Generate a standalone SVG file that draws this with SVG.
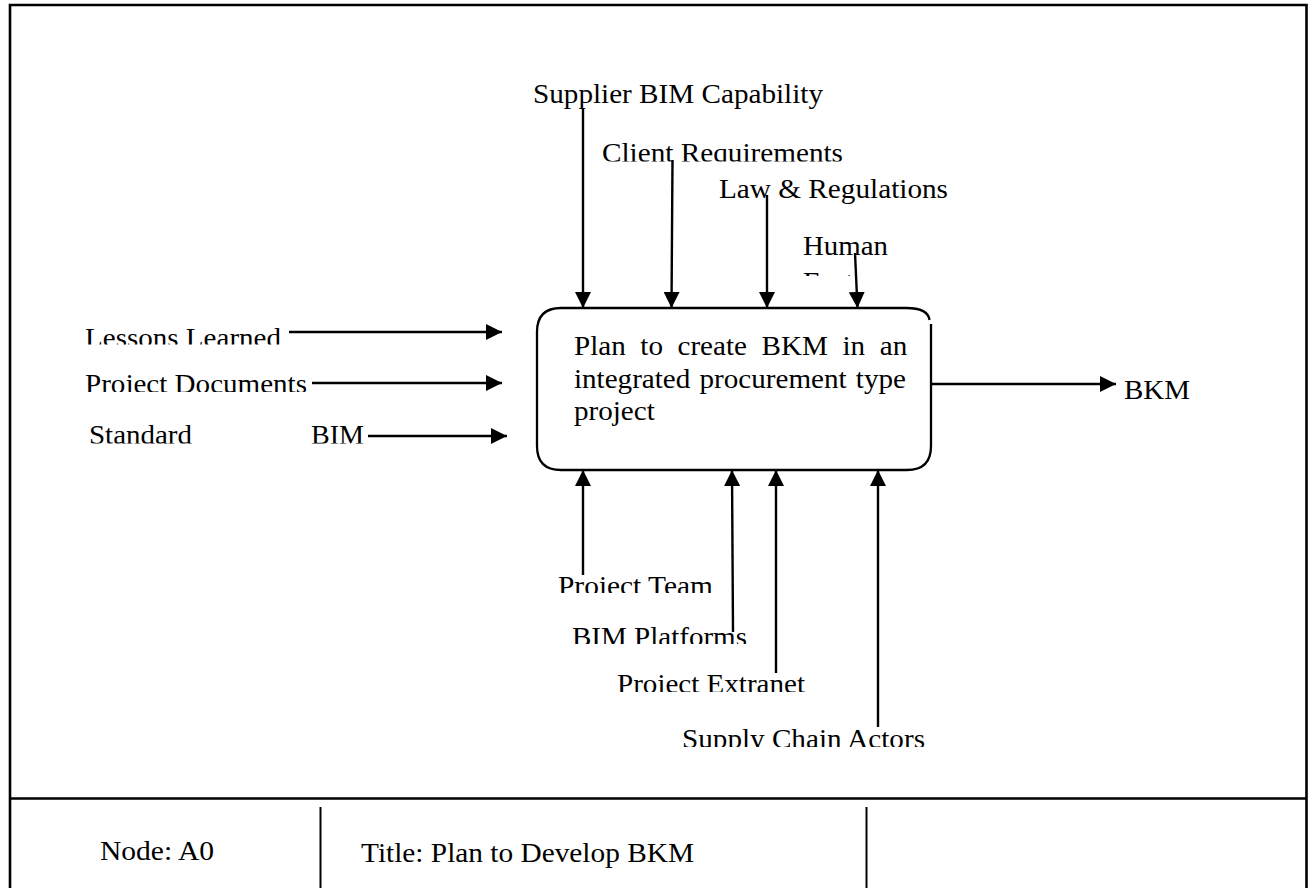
<svg xmlns="http://www.w3.org/2000/svg" width="1309" height="888" viewBox="0 0 1309 888">
<style>
  text { font-family: "Liberation Serif", "Times New Roman", serif; font-size: 28px; fill: #000; }
  .frame { stroke: #000; stroke-width: 2.6; fill: none; }
  .thin { stroke: #000; stroke-width: 2; fill: none; }
  .arrow { stroke: #000; stroke-width: 2.4; fill: none; marker-end: url(#ah); }
  .box { stroke: #000; stroke-width: 2.3; fill: none; }
</style>
<defs>
  <marker id="ah" viewBox="0 0 16 16" refX="16" refY="8" markerWidth="16" markerHeight="16" markerUnits="userSpaceOnUse" orient="auto">
    <path d="M0,0 L16,8 L0,16 z" fill="#000"/>
  </marker>
  <clipPath id="cClient"><rect x="590" y="120" width="270" height="41.5"/></clipPath>
  <clipPath id="cHuman"><rect x="795" y="225" width="110" height="51"/></clipPath>
  <clipPath id="cLessons"><rect x="70" y="315" width="220" height="29.5"/></clipPath>
  <clipPath id="cDocs"><rect x="70" y="360" width="245" height="32"/></clipPath>
  <clipPath id="cStd"><rect x="70" y="415" width="300" height="28.5"/></clipPath>
  <clipPath id="cTeam"><rect x="545" y="565" width="180" height="28"/></clipPath>
  <clipPath id="cPlat"><rect x="560" y="615" width="200" height="29"/></clipPath>
  <clipPath id="cExtra"><rect x="605" y="660" width="210" height="32"/></clipPath>
  <clipPath id="cSupply"><rect x="670" y="715" width="270" height="32"/></clipPath>
</defs>
<rect width="1309" height="888" fill="#fff"/>

<g id="frame">
  <path class="frame" d="M10,888 V5 H1306.5 V888"/>
  <line class="frame" x1="10" y1="798.5" x2="1306.5" y2="798.5"/>
  <line class="thin" x1="320.5" y1="807" x2="320.5" y2="888"/>
  <line class="thin" x1="866.5" y1="807" x2="866.5" y2="888"/>
  <text x="100" y="860" textLength="114" lengthAdjust="spacingAndGlyphs">Node: A0</text>
  <text x="361" y="862" textLength="333" lengthAdjust="spacingAndGlyphs">Title: Plan to Develop BKM</text>
</g>

<g id="connectors">
  <line class="arrow" x1="583" y1="108" x2="583" y2="308"/>
  <line class="arrow" x1="672.5" y1="160" x2="671.5" y2="308"/>
  <line class="arrow" x1="767" y1="195" x2="767" y2="308"/>
  <line class="arrow" x1="855" y1="253" x2="857.5" y2="308"/>
  <line class="arrow" x1="289" y1="332" x2="502" y2="332"/>
  <line class="arrow" x1="312" y1="383" x2="502" y2="383"/>
  <line class="arrow" x1="368" y1="436" x2="507" y2="436"/>
  <line class="arrow" x1="931" y1="384" x2="1116" y2="384"/>
  <line class="arrow" x1="583" y1="575" x2="583" y2="470"/>
  <line class="arrow" x1="733" y1="632" x2="732" y2="470"/>
  <line class="arrow" x1="776" y1="673" x2="776" y2="470"/>
  <line class="arrow" x1="878" y1="727" x2="878" y2="470"/>
</g>

<g id="node-A0">
  <path class="box" d="M561,308 H906 Q928,308 929.5,320"/>
  <path class="box" d="M931,324 V446 Q931,470 907,470 H561 Q537,470 537,446 V332 Q537,308 561,308"/>
  <g transform="translate(574,0) scale(1.04,1) translate(-574,0)">
    <text y="355"><tspan x="574">Plan</tspan><tspan x="637.75">to</tspan><tspan x="673.5">create</tspan><tspan x="754.4">BKM</tspan><tspan x="832.2">in</tspan><tspan x="868">an</tspan></text>
    <text y="388"><tspan x="574">integrated</tspan><tspan x="694.7">procurement</tspan><tspan x="845">type</tspan></text>
    <text x="574" y="420">project</text>
  </g>
</g>

<g id="labels">
  <text x="533" y="103" textLength="290" lengthAdjust="spacingAndGlyphs">Supplier BIM Capability</text>
  <g clip-path="url(#cClient)"><text x="602" y="162" textLength="241" lengthAdjust="spacingAndGlyphs">Client Requirements</text></g>
  <text x="719" y="198" textLength="229" lengthAdjust="spacingAndGlyphs">Law &amp; Regulations</text>
  <g clip-path="url(#cHuman)">
    <text x="803" y="255" textLength="85" lengthAdjust="spacingAndGlyphs">Human</text>
    <text x="803" y="291" textLength="86" lengthAdjust="spacingAndGlyphs">Factors</text>
  </g>
  <g clip-path="url(#cLessons)"><text x="85" y="347" textLength="196" lengthAdjust="spacingAndGlyphs">Lessons Learned</text></g>
  <g clip-path="url(#cDocs)"><text x="85" y="393" textLength="222" lengthAdjust="spacingAndGlyphs">Project Documents</text></g>
  <g clip-path="url(#cStd)">
    <text y="444"><tspan x="89" textLength="103" lengthAdjust="spacingAndGlyphs">Standard</tspan><tspan x="311" textLength="53" lengthAdjust="spacingAndGlyphs">BIM</tspan></text>
  </g>
  <text x="1124" y="399" textLength="66" lengthAdjust="spacingAndGlyphs">BKM</text>
  <g clip-path="url(#cTeam)"><text x="558" y="594.5" textLength="155" lengthAdjust="spacingAndGlyphs">Project Team</text></g>
  <g clip-path="url(#cPlat)"><text x="572" y="645.5" textLength="175" lengthAdjust="spacingAndGlyphs">BIM Platforms</text></g>
  <g clip-path="url(#cExtra)"><text x="617" y="692.5" textLength="188" lengthAdjust="spacingAndGlyphs">Project Extranet</text></g>
  <g clip-path="url(#cSupply)"><text x="682" y="747.5" textLength="243" lengthAdjust="spacingAndGlyphs">Supply Chain Actors</text></g>
</g>
</svg>
